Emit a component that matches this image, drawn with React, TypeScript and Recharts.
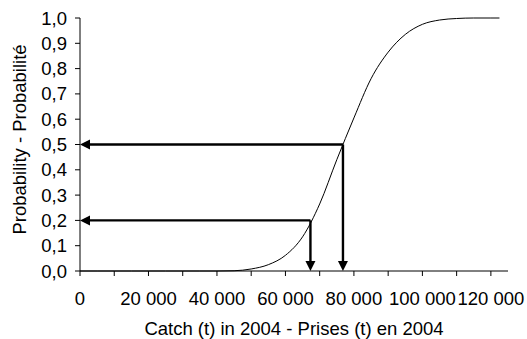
import React from 'react';
import {
  LineChart,
  Line,
  XAxis,
  YAxis,
  ReferenceLine,
} from 'recharts';

// catch (t) and cumulative probability
const catchT = [
  0, 5000, 10000, 15000, 20000, 25000, 30000, 35000, 40000, 45000, 50000, 55000,
  60000, 65000, 70000, 75000, 80000, 85000, 90000, 95000, 100000, 105000, 110000,
  115000, 120000, 122500,
];
const prob = [
  0, 0, 0, 0, 0, 0, 0, 0, 0, 0.001, 0.008, 0.025,
  0.062, 0.135, 0.265, 0.44, 0.605, 0.76, 0.865, 0.935, 0.975, 0.992, 0.998,
  1, 1, 1,
];

// probability levels marked with arrows, and the catch where the curve hits them
const arrowProb = [0.2, 0.5];
const arrowCatch = [67300, 76800];

const xTicks = [0, 10000, 20000, 30000, 40000, 50000, 60000, 70000, 80000, 90000, 100000, 110000, 120000];
const yTicks = [0, 0.1, 0.2, 0.3, 0.4, 0.5, 0.6, 0.7, 0.8, 0.9, 1];

const data = catchT.map((c, i) => ({ c, p: prob[i] }));

const FONT = '"Liberation Sans", Arial, sans-serif';

const fmtX = (v: number) =>
  v % 20000 === 0 ? String(v).replace(/\B(?=(\d{3})+(?!\d))/g, ' ') : '';
const fmtY = (v: number) => v.toFixed(1).replace('.', ',');

// line with a filled triangular head at (x2, y2)
function Arrow(props: any) {
  const { x1, y1, x2, y2 } = props;
  const dx = x2 - x1;
  const dy = y2 - y1;
  const len = Math.sqrt(dx * dx + dy * dy) || 1;
  const ux = dx / len;
  const uy = dy / len;
  const head = 10;
  const half = 5;
  const bx = x2 - ux * head;
  const by = y2 - uy * head;
  const pts = [
    `${x2},${y2}`,
    `${bx - uy * half},${by + ux * half}`,
    `${bx + uy * half},${by - ux * half}`,
  ].join(' ');
  return (
    <g>
      <line x1={x1} y1={y1} x2={bx} y2={by} stroke="#000" strokeWidth={2.4} />
      <polygon points={pts} fill="#000" />
    </g>
  );
}

export default function App() {
  return (
    <div style={{ width: 527, height: 339, background: '#fff' }}>
      <style>{'body{margin:0}'}</style>
      <LineChart
        width={527}
        height={339}
        data={data}
        margin={{ top: 18, right: 19, bottom: 38, left: 0 }}
      >
        <XAxis
          dataKey="c"
          type="number"
          domain={[0, 125000]}
          ticks={xTicks}
          interval={0}
          tickFormatter={fmtX}
          height={30}
          tickSize={5}
          tickMargin={16}
          axisLine={{ stroke: '#000' }}
          tickLine={{ stroke: '#000' }}
          tick={{ fill: '#000', fontSize: 18.5, fontFamily: FONT }}
          label={{
            value: 'Catch (t) in 2004 - Prises (t) en 2004',
            position: 'insideBottom',
            offset: -34,
            fill: '#000',
            fontSize: 18.5,
            fontFamily: FONT,
          }}
        />
        <YAxis
          type="number"
          domain={[0, 1]}
          ticks={yTicks}
          interval={0}
          tickFormatter={fmtY}
          width={80}
          tickSize={5}
          tickMargin={8}
          axisLine={{ stroke: '#000' }}
          tickLine={{ stroke: '#000' }}
          tick={{ fill: '#000', fontSize: 18.5, fontFamily: FONT }}
          label={{
            value: 'Probability - Probabilité',
            angle: -90,
            position: 'insideLeft',
            offset: 19,
            dy: -5,
            fill: '#000',
            fontSize: 18.5,
            fontFamily: FONT,
            style: { textAnchor: 'middle' },
          }}
        />
        <Line
          dataKey="p"
          type="monotone"
          stroke="#000"
          strokeWidth={1}
          dot={false}
          isAnimationActive={false}
        />
        {arrowProb.map((p, i) => (
          <ReferenceLine
            key={`h-${i}`}
            segment={[
              { x: arrowCatch[i], y: p },
              { x: 0, y: p },
            ]}
            shape={Arrow}
            ifOverflow="visible"
          />
        ))}
        {arrowProb.map((p, i) => (
          <ReferenceLine
            key={`v-${i}`}
            segment={[
              { x: arrowCatch[i], y: p },
              { x: arrowCatch[i], y: 0 },
            ]}
            shape={Arrow}
            ifOverflow="visible"
          />
        ))}
      </LineChart>
    </div>
  );
}
